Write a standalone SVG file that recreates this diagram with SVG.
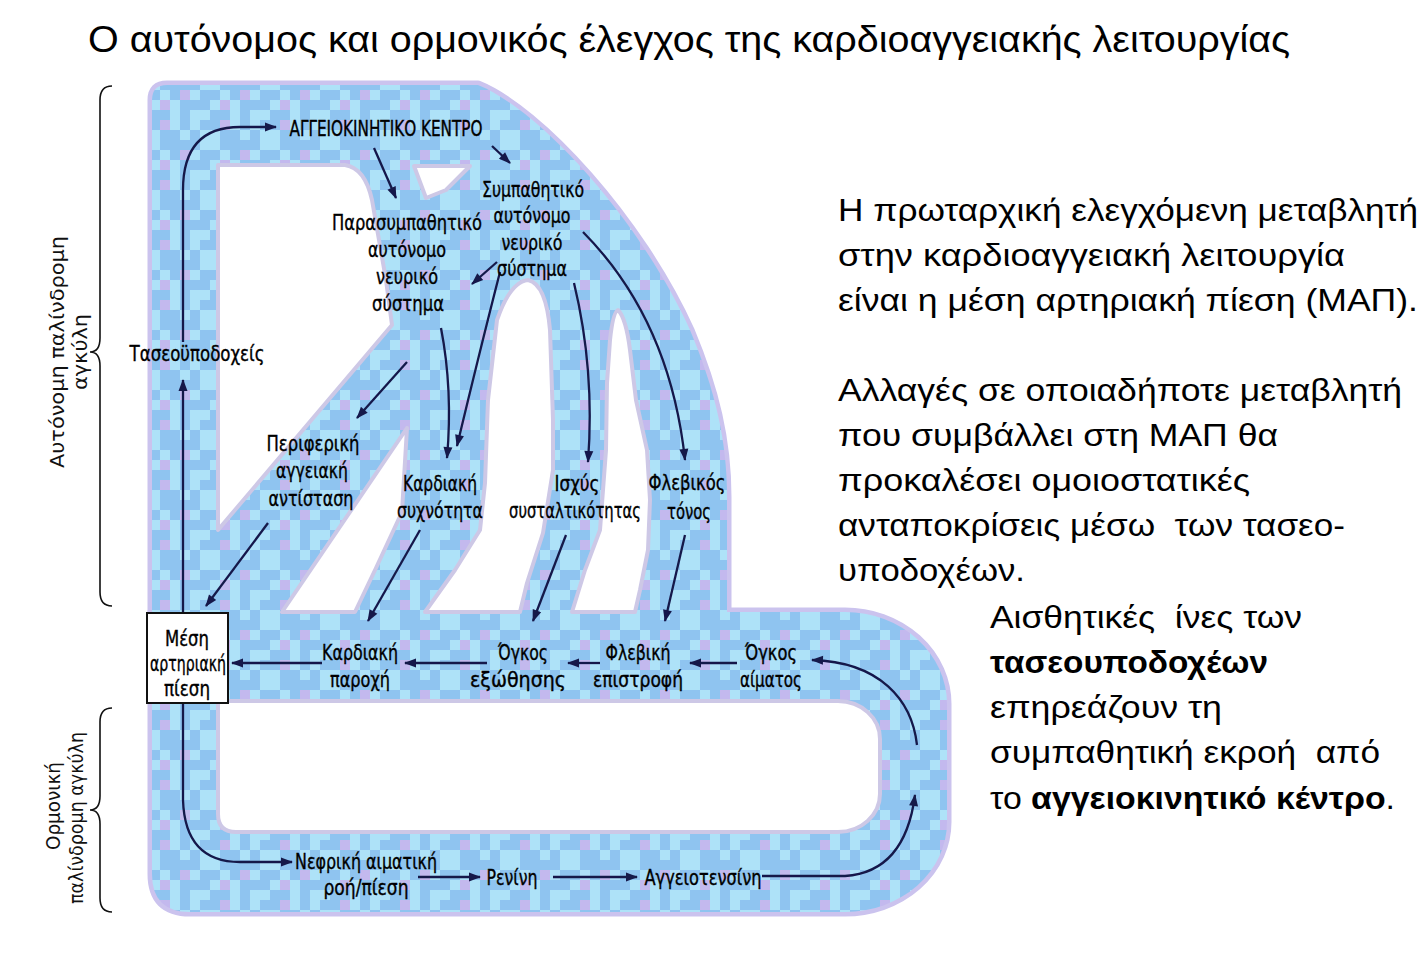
<svg xmlns="http://www.w3.org/2000/svg" width="1419" height="954" viewBox="0 0 1419 954">
<defs>
<style>
.lbl{font-family:"Liberation Sans Narrow","DejaVu Sans Condensed","Liberation Sans",sans-serif;font-size:21px;fill:#000;stroke:#000;stroke-width:0.35;text-anchor:middle}
.rt{font-family:"Liberation Sans","Noto Sans",sans-serif;font-size:32px;fill:#000}
.ttl{font-family:"Liberation Sans","Noto Sans",sans-serif;font-size:36px;fill:#000}
.side{font-family:"Liberation Sans Narrow","DejaVu Sans Condensed","Liberation Sans",sans-serif;font-size:20px;fill:#111;text-anchor:middle}
.con{fill:none;stroke:#15184a;stroke-width:2.3;marker-end:url(#ah)}
.brace{fill:none;stroke:#111;stroke-width:1.6}
.hole{fill:#fff;stroke:#cdc8e6;stroke-width:4;stroke-linejoin:round}
.edge{fill:none;stroke:#cbc3ee;stroke-width:9;stroke-linejoin:round}
.band{fill:url(#mos);stroke:none}
</style>
<pattern id="mos" width="60" height="60" patternUnits="userSpaceOnUse">
<rect width="60" height="60" fill="#aee2f8"/>
<g fill="#8fc4f0">
<rect x="0" y="0" width="10" height="10"/><rect x="20" y="0" width="10" height="10"/><rect x="30" y="0" width="10" height="10"/>
<rect x="10" y="10" width="10" height="10"/><rect x="40" y="10" width="10" height="10"/><rect x="50" y="10" width="10" height="10"/>
<rect x="0" y="20" width="10" height="10"/><rect x="10" y="20" width="10" height="10"/><rect x="40" y="20" width="10" height="10"/><rect x="50" y="20" width="10" height="10"/>
<rect x="20" y="30" width="10" height="10"/><rect x="30" y="30" width="10" height="10"/><rect x="50" y="30" width="10" height="10"/>
<rect x="10" y="40" width="10" height="10"/><rect x="20" y="40" width="10" height="10"/><rect x="0" y="40" width="10" height="10"/>
<rect x="0" y="50" width="10" height="10"/><rect x="30" y="50" width="10" height="10"/><rect x="40" y="50" width="10" height="10"/>
</g>
<g fill="#c3b9ee">
<rect x="40" y="0" width="10" height="10"/><rect x="0" y="30" width="10" height="10"/><rect x="40" y="40" width="10" height="10"/>
</g>
</pattern>
<marker id="ah" viewBox="0 0 12 10" refX="11" refY="5" markerWidth="13" markerHeight="10" markerUnits="userSpaceOnUse" orient="auto">
<path d="M0,0.5 L12,5 L0,9.5 Z" fill="#15184a"/>
</marker>
</defs>

<rect width="1419" height="954" fill="#fff"/>

<text class="ttl" x="88" y="52" textLength="1202" lengthAdjust="spacingAndGlyphs">Ο αυτόνομος και ορμονικός έλεγχος της καρδιοαγγειακής λειτουργίας</text>

<!-- blue bands -->
<g id="bands">
<path class="edge" d="M152,640 V100 Q152,85 167,85 H478 C540,110 640,220 690,330 C715,390 727,440 727,497 L727,640 Z"/>
<path class="edge" d="M152,612 H845 A102,92 0 0 1 947,704 V822 A102,90 0 0 1 845,912 H190 Q152,912 152,874 Z"/>
<path class="band" d="M152,640 V100 Q152,85 167,85 H478 C540,110 640,220 690,330 C715,390 727,440 727,497 L727,640 Z"/>
<path class="band" d="M152,612 H845 A102,92 0 0 1 947,704 V822 A102,90 0 0 1 845,912 H190 Q152,912 152,874 Z"/>
<path class="hole" d="M218,165 L345,165 Q365,168 372,200 L386,280 L392,325 L218,530 Z"/>
<path class="hole" d="M414,166 L470,166 L446,190 L426,198 Z"/>
<path class="hole" d="M407,428 L282,612 L355,612 L376,568 L402,512 Z"/>
<path class="hole" d="M425,612 L455,570 L480,530 L485,483 L488,400 L497,320 Q510,282 528,280 Q546,284 550,330 L553,420 L553,470 L543,533 L527,583 L520,612 Z"/>
<path class="hole" d="M572,612 L585,570 L600,530 L606,450 L607,383 L610,340 Q613,312 618,310 Q626,318 630,350 L636,400 L647,450 L650,500 L648,550 L640,590 L635,612 Z"/>
<path class="hole" d="M218,701 H838 A42,38 0 0 1 880,739 V794 A42,38 0 0 1 838,832 H236 Q218,832 218,814 Z"/>
</g>

<!-- braces and side labels -->
<g id="autonomic-loop">
<path class="brace" d="M112,86 Q100,86 100,100 V338 Q100,352 90,352 Q100,352 100,366 V592 Q100,606 112,606"/>
<text class="side" transform="translate(64,352) rotate(-90)" textLength="232" lengthAdjust="spacingAndGlyphs">Αυτόνομη παλίνδρομη</text>
<text class="side" transform="translate(87,352) rotate(-90)" textLength="76" lengthAdjust="spacingAndGlyphs">αγκύλη</text>
</g>
<g id="hormonal-loop">
<path class="brace" d="M112,708 Q100,708 100,722 V796 Q100,810 90,810 Q100,810 100,824 V898 Q100,912 112,912"/>
<text class="side" transform="translate(60,806) rotate(-90)" textLength="88" lengthAdjust="spacingAndGlyphs">Ορμονική</text>
<text class="side" transform="translate(83,818) rotate(-90)" textLength="172" lengthAdjust="spacingAndGlyphs">παλίνδρομη αγκύλη</text>
</g>

<!-- connectors -->
<g id="connectors">
<path class="con" d="M183,612 V380"/>
<path class="con" d="M183,342 V190 Q183,127 240,127 H276"/>
<path class="con" d="M374,148 L396,198"/>
<path class="con" d="M492,146 L510,163"/>
<path class="con" d="M497,262 L472,284"/>
<path class="con" d="M441,328 Q453,390 447,458"/>
<path class="con" d="M500,272 Q480,350 457,446"/>
<path class="con" d="M407,362 L357,418"/>
<path class="con" d="M574,283 Q595,370 588,462"/>
<path class="con" d="M583,232 Q670,320 685,460"/>
<path class="con" d="M268,523 L206,606"/>
<path class="con" d="M420,530 L368,621"/>
<path class="con" d="M566,535 L533,621"/>
<path class="con" d="M685,535 L665,621"/>
<path class="con" d="M322,663 H232"/>
<path class="con" d="M487,663 H405"/>
<path class="con" d="M600,663 H568"/>
<path class="con" d="M737,663 H690"/>
<path class="con" d="M917,745 C912,700 880,662 812,660"/>
<path class="con" d="M762,876 H845 Q905,872 915,795"/>
<path class="con" d="M183,703 V800 Q185,862 240,862 H292"/>
<path class="con" d="M418,877 H480"/>
<path class="con" d="M553,877 H637"/>
</g>

<!-- nodes -->
<g id="vasomotor-center"><text class="lbl" x="386" y="136" textLength="193" lengthAdjust="spacingAndGlyphs">ΑΓΓΕΙΟΚΙΝΗΤΙΚΟ ΚΕΝΤΡΟ</text></g>
<g id="parasympathetic">
<text class="lbl" x="407" y="230" textLength="150" lengthAdjust="spacingAndGlyphs">Παρασυμπαθητικό</text>
<text class="lbl" x="407" y="257" textLength="78" lengthAdjust="spacingAndGlyphs">αυτόνομο</text>
<text class="lbl" x="407" y="284" textLength="62" lengthAdjust="spacingAndGlyphs">νευρικό</text>
<text class="lbl" x="408" y="311" textLength="72" lengthAdjust="spacingAndGlyphs">σύστημα</text>
</g>
<g id="sympathetic">
<text class="lbl" x="533" y="197" textLength="102" lengthAdjust="spacingAndGlyphs">Συμπαθητικό</text>
<text class="lbl" x="532" y="223" textLength="77" lengthAdjust="spacingAndGlyphs">αυτόνομο</text>
<text class="lbl" x="532" y="250" textLength="61" lengthAdjust="spacingAndGlyphs">νευρικό</text>
<text class="lbl" x="532" y="276" textLength="70" lengthAdjust="spacingAndGlyphs">σύστημα</text>
</g>
<g id="baroreceptors"><text class="lbl" x="197" y="361" textLength="135" lengthAdjust="spacingAndGlyphs">Τασεοϋποδοχείς</text></g>
<g id="peripheral-resistance">
<text class="lbl" x="313" y="451" textLength="93" lengthAdjust="spacingAndGlyphs">Περιφερική</text>
<text class="lbl" x="312" y="478" textLength="72" lengthAdjust="spacingAndGlyphs">αγγειακή</text>
<text class="lbl" x="311" y="506" textLength="85" lengthAdjust="spacingAndGlyphs">αντίσταση</text>
</g>
<g id="heart-rate">
<text class="lbl" x="440" y="491" textLength="74" lengthAdjust="spacingAndGlyphs">Καρδιακή</text>
<text class="lbl" x="440" y="518" textLength="86" lengthAdjust="spacingAndGlyphs">συχνότητα</text>
</g>
<g id="contractility">
<text class="lbl" x="577" y="491" textLength="45" lengthAdjust="spacingAndGlyphs">Ισχύς</text>
<text class="lbl" x="575" y="518" textLength="132" lengthAdjust="spacingAndGlyphs">συσταλτικότητας</text>
</g>
<g id="venous-tone">
<text class="lbl" x="687" y="490" textLength="77" lengthAdjust="spacingAndGlyphs">Φλεβικός</text>
<text class="lbl" x="689" y="519" textLength="44" lengthAdjust="spacingAndGlyphs">τόνος</text>
</g>
<g id="map">
<rect x="147" y="613" width="81" height="90" fill="#fff" stroke="#111" stroke-width="2"/>
<text class="lbl" x="187" y="646" textLength="44" lengthAdjust="spacingAndGlyphs">Μέση</text>
<text class="lbl" x="188" y="671" textLength="76" lengthAdjust="spacingAndGlyphs">αρτηριακή</text>
<text class="lbl" x="187" y="696" textLength="46" lengthAdjust="spacingAndGlyphs">πίεση</text>
</g>
<g id="cardiac-output">
<text class="lbl" x="360" y="660" textLength="76" lengthAdjust="spacingAndGlyphs">Καρδιακή</text>
<text class="lbl" x="360" y="687" textLength="60" lengthAdjust="spacingAndGlyphs">παροχή</text>
</g>
<g id="stroke-volume">
<text class="lbl" x="523" y="660" textLength="50" lengthAdjust="spacingAndGlyphs">Όγκος</text>
<text class="lbl" x="518" y="687" textLength="96" lengthAdjust="spacingAndGlyphs">εξώθησης</text>
</g>
<g id="venous-return">
<text class="lbl" x="638" y="660" textLength="65" lengthAdjust="spacingAndGlyphs">Φλεβική</text>
<text class="lbl" x="638" y="687" textLength="90" lengthAdjust="spacingAndGlyphs">επιστροφή</text>
</g>
<g id="blood-volume">
<text class="lbl" x="771" y="660" textLength="52" lengthAdjust="spacingAndGlyphs">Όγκος</text>
<text class="lbl" x="771" y="687" textLength="62" lengthAdjust="spacingAndGlyphs">αίματος</text>
</g>
<g id="renal-flow">
<text class="lbl" x="366" y="869" textLength="142" lengthAdjust="spacingAndGlyphs">Νεφρική αιματική</text>
<text class="lbl" x="366" y="895" textLength="85" lengthAdjust="spacingAndGlyphs">ροή/πίεση</text>
</g>
<g id="renin"><text class="lbl" x="512" y="885" textLength="51" lengthAdjust="spacingAndGlyphs">Ρενίνη</text></g>
<g id="angiotensin"><text class="lbl" x="703" y="885" textLength="117" lengthAdjust="spacingAndGlyphs">Αγγειοτενσίνη</text></g>

<!-- right-hand text -->
<g id="note-1">
<text class="rt" x="838" y="221" textLength="580" lengthAdjust="spacingAndGlyphs">Η πρωταρχική ελεγχόμενη μεταβλητή</text>
<text class="rt" x="838" y="266" textLength="507" lengthAdjust="spacingAndGlyphs">στην καρδιοαγγειακή λειτουργία</text>
<text class="rt" x="838" y="311" textLength="580" lengthAdjust="spacingAndGlyphs">είναι η μέση αρτηριακή πίεση (ΜΑΠ).</text>
</g>
<g id="note-2">
<text class="rt" x="838" y="401" textLength="564" lengthAdjust="spacingAndGlyphs">Αλλαγές σε οποιαδήποτε μεταβλητή</text>
<text class="rt" x="838" y="446" textLength="440" lengthAdjust="spacingAndGlyphs">που συμβάλλει στη ΜΑΠ θα</text>
<text class="rt" x="838" y="491" textLength="412" lengthAdjust="spacingAndGlyphs">προκαλέσει ομοιοστατικές</text>
<text class="rt" x="838" y="536" textLength="507" lengthAdjust="spacingAndGlyphs" xml:space="preserve">ανταποκρίσεις μέσω  των τασεο-</text>
<text class="rt" x="838" y="581" textLength="187" lengthAdjust="spacingAndGlyphs">υποδοχέων.</text>
</g>
<g id="note-3">
<text class="rt" x="990" y="628" textLength="312" lengthAdjust="spacingAndGlyphs" xml:space="preserve">Αισθητικές  ίνες των</text>
<text class="rt" x="990" y="673" textLength="278" lengthAdjust="spacingAndGlyphs" font-weight="bold">τασεουποδοχέων</text>
<text class="rt" x="990" y="718" textLength="232" lengthAdjust="spacingAndGlyphs">επηρεάζουν τη</text>
<text class="rt" x="990" y="763" textLength="390" lengthAdjust="spacingAndGlyphs" xml:space="preserve">συμπαθητική εκροή  από</text>
<text class="rt" x="990" y="809" textLength="405" lengthAdjust="spacingAndGlyphs">το <tspan font-weight="bold">αγγειοκινητικό κέντρο</tspan>.</text>
</g>
</svg>
